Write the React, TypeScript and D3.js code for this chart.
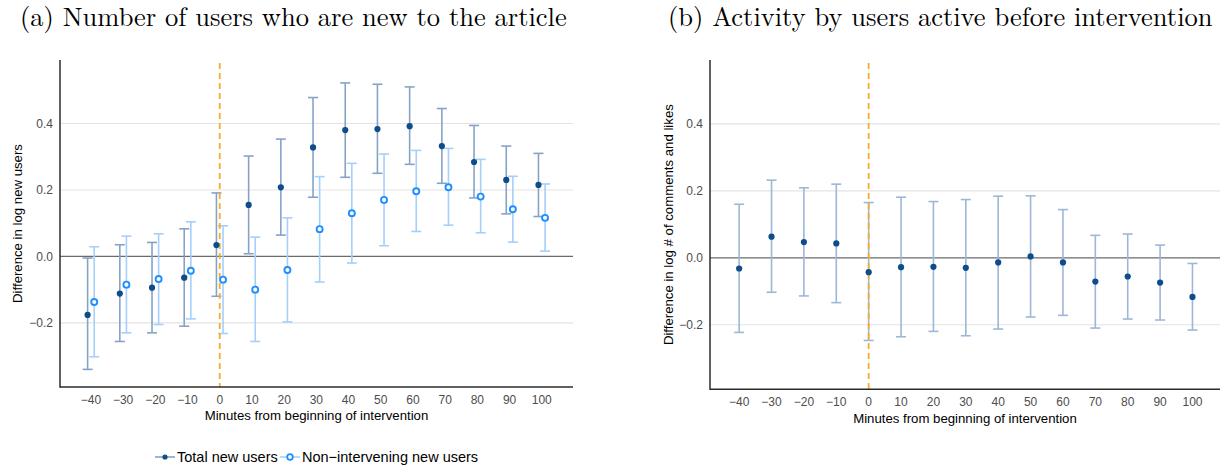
import React from "react";
import * as d3 from "d3";

// Minutes relative to the start of the intervention
const minutes = [-40, -30, -20, -10, 0, 10, 20, 30, 40, 50, 60, 70, 80, 90, 100];

// Panel (a): total new users (estimate and 95% interval)
const totalEst = [-0.176, -0.112, -0.094, -0.064, 0.034, 0.155, 0.208, 0.328, 0.38, 0.383, 0.392, 0.332, 0.284, 0.23, 0.215];
const totalHi = [-0.005, 0.035, 0.042, 0.083, 0.191, 0.302, 0.353, 0.478, 0.522, 0.518, 0.51, 0.445, 0.394, 0.332, 0.31];
const totalLo = [-0.34, -0.256, -0.23, -0.21, -0.12, 0.008, 0.064, 0.178, 0.238, 0.25, 0.277, 0.22, 0.176, 0.128, 0.12];

// Panel (a): non-intervening new users
const nonEst = [-0.137, -0.085, -0.068, -0.043, -0.07, -0.1, -0.041, 0.082, 0.13, 0.17, 0.196, 0.208, 0.18, 0.142, 0.116];
const nonHi = [0.029, 0.061, 0.068, 0.104, 0.092, 0.058, 0.116, 0.24, 0.28, 0.308, 0.319, 0.325, 0.292, 0.241, 0.218];
const nonLo = [-0.302, -0.23, -0.205, -0.188, -0.232, -0.256, -0.197, -0.077, -0.02, 0.032, 0.075, 0.094, 0.071, 0.043, 0.016];

// Panel (b): activity of users active before the intervention
const actEst = [-0.032, 0.063, 0.047, 0.043, -0.043, -0.028, -0.027, -0.03, -0.014, 0.004, -0.014, -0.071, -0.056, -0.074, -0.117];
const actHi = [0.16, 0.232, 0.209, 0.22, 0.165, 0.181, 0.168, 0.174, 0.184, 0.185, 0.144, 0.067, 0.071, 0.038, -0.017];
const actLo = [-0.223, -0.103, -0.114, -0.134, -0.247, -0.236, -0.22, -0.233, -0.213, -0.177, -0.172, -0.21, -0.183, -0.186, -0.216];

const yTicks = [-0.2, 0, 0.2, 0.4];
const xTicks = minutes;

const titleA = "(a) Number of users who are new to the article";
const titleB = "(b) Activity by users active before intervention";
const yLabelA = "Difference in log new users";
const yLabelB = "Difference in log # of comments and likes";
const xLabel = "Minutes from beginning of intervention";
const legendLabels = ["Total new users", "Non\u2212intervening new users"];

const SANS = "'Liberation Sans', Arial, Helvetica, sans-serif";
const SERIF = "'Latin Modern Roman', 'CMU Serif', 'Liberation Serif', serif";

const C = {
  totalPt: "#0f4c8a",
  totalBar: "#86a3c6",
  nonPt: "#1e8fff",
  nonBar: "#a6cffb",
  actPt: "#0f4c8a",
  actBar: "#9db7d6",
  grid: "#e3e3e3",
  zero: "#6b6b6b",
  axis: "#2b2b2b",
  tick: "#4d4d4d",
  vline: "#f7ad2a",
};

const fmt = (v: number) => (v === 0 ? "0.0" : d3.format(".1f")(v).replace("-", "\u2212"));
const fmtX = (v: number) => String(v).replace("-", "\u2212");

type Series = { est: number[]; lo: number[]; hi: number[]; pt: string; bar: string; open: boolean; dx: number };

function Panel(props: {
  left: number; right: number; top: number; bottom: number;
  xDomain: [number, number]; yDomain: [number, number];
  series: Series[]; yLabel: string; yLabelX: number; tickLabelX: number;
  xTickY: number; xLabelY: number;
}) {
  const { left, right, top, bottom, xDomain, yDomain, series } = props;
  const x = d3.scaleLinear().domain(xDomain).range([left, right]);
  const y = d3.scaleLinear().domain(yDomain).range([bottom, top]);
  const cap = 5;
  const midY = (top + bottom) / 2;
  return (
    <g>
      {yTicks.filter((t) => t !== 0).map((t) => (
        <line key={"g" + t} x1={left} x2={right} y1={y(t)} y2={y(t)} stroke={C.grid} strokeWidth={1.1} />
      ))}
      <line x1={left} x2={right} y1={y(0)} y2={y(0)} stroke={C.zero} strokeWidth={1.2} />
      {series.map((s, si) => (
        <g key={"s" + si}>
          {minutes.map((m, i) => {
            const cx = x(m) + s.dx;
            return (
              <g key={i} stroke={s.bar} strokeWidth={1.6}>
                <line x1={cx} x2={cx} y1={y(s.lo[i])} y2={y(s.hi[i])} />
                <line x1={cx - cap} x2={cx + cap} y1={y(s.lo[i])} y2={y(s.lo[i])} />
                <line x1={cx - cap} x2={cx + cap} y1={y(s.hi[i])} y2={y(s.hi[i])} />
              </g>
            );
          })}
        </g>
      ))}
      <line x1={x(0)} x2={x(0)} y1={top + 3} y2={bottom} stroke={C.vline} strokeWidth={1.8} strokeDasharray="6,4" />
      {series.map((s, si) => (
        <g key={"p" + si}>
          {minutes.map((m, i) =>
            s.open ? (
              <circle key={i} cx={x(m) + s.dx} cy={y(s.est[i])} r={3} fill="#fff" stroke={s.pt} strokeWidth={1.9} />
            ) : (
              <circle key={i} cx={x(m) + s.dx} cy={y(s.est[i])} r={3.1} fill={s.pt} />
            )
          )}
        </g>
      ))}
      <line x1={left} x2={left} y1={top} y2={bottom + 0.75} stroke={C.axis} strokeWidth={1.5} />
      <line x1={left} x2={right} y1={bottom} y2={bottom} stroke={C.axis} strokeWidth={1.5} />
      {yTicks.map((t) => (
        <text key={"yt" + t} x={props.tickLabelX} y={y(t)} dy="0.35em" textAnchor="end" fontSize={12} fill={C.tick} fontFamily={SANS}>
          {fmt(t)}
        </text>
      ))}
      {xTicks.map((t) => (
        <text key={"xt" + t} x={x(t)} y={props.xTickY} textAnchor="middle" fontSize={12} fill={C.tick} fontFamily={SANS}>
          {fmtX(t)}
        </text>
      ))}
      <text x={(left + right) / 2} y={props.xLabelY} textAnchor="middle" fontSize={13.2} fill="#000" fontFamily={SANS}>
        {xLabel}
      </text>
      <text
        transform={`translate(${props.yLabelX},${midY}) rotate(-90)`}
        textAnchor="middle"
        dy="0.35em"
        fontSize={13.2}
        fill="#000"
        fontFamily={SANS}
      >
        {props.yLabel}
      </text>
    </g>
  );
}

export default function App() {
  const seriesA: Series[] = [
    { est: totalEst, lo: totalLo, hi: totalHi, pt: C.totalPt, bar: C.totalBar, open: false, dx: -3.3 },
    { est: nonEst, lo: nonLo, hi: nonHi, pt: C.nonPt, bar: C.nonBar, open: true, dx: 3.3 },
  ];
  const seriesB: Series[] = [
    { est: actEst, lo: actLo, hi: actHi, pt: C.actPt, bar: C.actBar, open: false, dx: 0 },
  ];
  return (
    <svg
      width={1227}
      height={468}
      style={{ position: "absolute", left: 0, top: 0, background: "#fff" }}
      xmlns="http://www.w3.org/2000/svg"
    >
      <rect width={1227} height={468} fill="#fff" />
      <text x={20} y={26} fontSize={26.5} fontFamily={SERIF} fill="#000">
        {titleA}
      </text>
      <text x={668} y={26} fontSize={26.5} fontFamily={SERIF} fill="#000">
        {titleB}
      </text>
      <Panel
        left={60} right={573} top={60} bottom={387}
        xDomain={[-49.6, 109.7]} yDomain={[-0.393, 0.591]}
        series={seriesA} yLabel={yLabelA} yLabelX={17} tickLabelX={53}
        xTickY={403.5} xLabelY={420}
      />
      <Panel
        left={710} right={1220} top={60} bottom={389.3}
        xDomain={[-49.0, 108.5]} yDomain={[-0.393, 0.591]}
        series={seriesB} yLabel={yLabelB} yLabelX={668} tickLabelX={703}
        xTickY={405.5} xLabelY={423}
      />
      {/* legend */}
      <g fontFamily={SANS} fontSize={14.5}>
        <line x1={155} x2={175} y1={457} y2={457} stroke={C.totalBar} strokeWidth={1.6} />
        <circle cx={165} cy={457} r={2.6} fill={C.totalPt} />
        <text x={177} y={457} dy="0.35em" fill="#000">{legendLabels[0]}</text>
        <line x1={280} x2={300} y1={457} y2={457} stroke={C.nonBar} strokeWidth={1.6} />
        <circle cx={290} cy={457} r={2.8} fill="#fff" stroke={C.nonPt} strokeWidth={1.8} />
        <text x={302} y={457} dy="0.35em" fill="#000">{legendLabels[1]}</text>
      </g>
    </svg>
  );
}
